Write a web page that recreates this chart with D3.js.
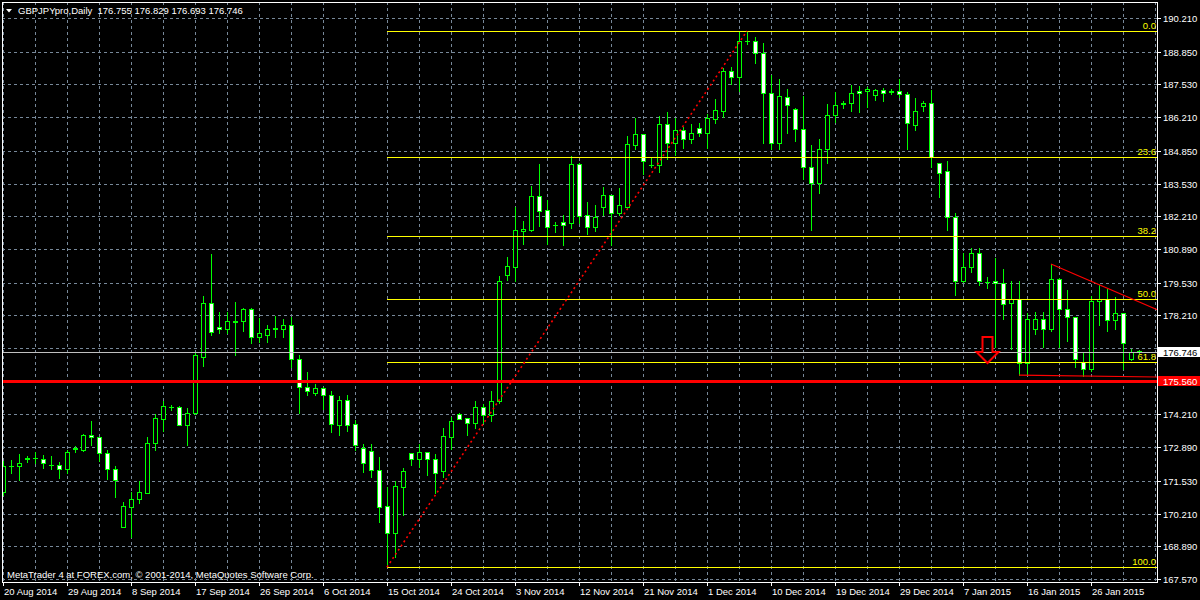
<!DOCTYPE html>
<html><head><meta charset="utf-8">
<script src="https://cdn.jsdelivr.net/npm/d3@7"></script>
<style>html,body{margin:0;padding:0;background:#000;overflow:hidden}svg{display:block}</style>
</head><body><svg id="c" width="1200" height="600"></svg>
<script>
// ---------------- DATA ----------------
const symbol = "GBPJPYpro,Daily";
const lastQuote = ["176.755", "176.829", "176.693", "176.746"];
const copyright = "MetaTrader 4 at FOREX.com, \u00a9 2001-2014, MetaQuotes Software Corp.";

const opens = [171.08,172.13,172.14,172.43,172.45,172.40,172.17,172.16,172.02,172.80,
172.78,173.37,173.29,172.64,172.00,169.68,170.49,170.79,171.05,173.05,
174.04,174.50,174.50,173.80,174.27,176.54,178.70,177.73,177.65,177.97,
177.97,178.45,177.35,177.41,177.67,177.67,177.81,176.44,175.31,175.06,
175.28,174.98,173.80,174.79,173.83,172.86,172.72,171.97,170.52,169.44,
171.30,172.64,172.40,172.70,172.40,171.92,173.31,174.23,174.07,173.85,
174.50,174.18,174.74,179.85,180.17,181.63,181.65,183.03,182.46,181.87,
181.98,181.95,184.32,182.25,181.79,182.59,183.05,182.35,182.59,185.10,
185.53,184.27,184.27,185.93,185.15,185.69,185.34,185.77,185.56,186.15,
186.47,188.06,187.82,189.29,189.27,188.78,187.17,185.18,187.01,186.55,
185.74,184.18,183.56,184.94,186.31,186.75,186.77,187.25,187.25,187.11,
187.30,187.25,187.25,187.14,185.90,186.66,186.77,184.35,184.02,182.19,
179.58,180.15,180.71,179.57,179.58,179.50,178.70,178.88,176.30,177.67,
178.05,177.65,179.69,178.45,178.13,176.33,176.03,178.78,178.88,178.02,
178.29,176.46,176.755];
const highs = [172.33,172.37,172.61,172.53,172.70,172.56,172.53,172.29,172.78,172.94,
173.42,173.93,173.30,172.78,172.13,170.68,171.08,171.54,173.31,174.23,
174.74,174.60,174.55,174.47,176.73,178.99,180.69,178.35,178.35,178.75,
178.51,178.51,178.10,177.81,178.18,178.07,178.16,176.60,175.92,175.44,
175.33,175.17,174.96,175.01,173.99,173.02,173.02,172.48,171.27,171.54,
172.05,172.66,173.02,172.71,172.61,173.66,174.12,174.28,174.08,174.77,
174.63,175.17,179.80,180.58,182.57,182.01,183.43,184.32,182.87,181.98,
182.25,184.64,184.35,182.78,182.68,183.40,183.06,183.35,185.45,186.17,
185.54,184.59,186.25,186.42,186.17,185.80,185.93,185.96,186.34,186.93,
188.19,188.22,189.69,189.64,189.43,189.19,187.90,187.74,187.33,186.56,
187.06,185.07,185.31,186.74,187.22,186.85,187.52,187.47,187.41,187.33,
187.38,187.36,187.76,187.22,186.98,186.87,187.30,184.36,184.45,182.35,
180.74,180.93,180.93,179.77,180.52,180.09,179.58,179.58,178.32,178.35,
178.35,180.28,179.70,179.23,178.14,176.73,178.99,179.42,179.29,178.94,
178.30,176.84,176.829];
const lows = [170.96,171.85,171.57,172.29,172.25,172.05,172.02,171.65,171.86,172.70,
172.75,172.99,172.34,171.62,170.89,169.67,169.28,170.63,171.04,172.78,
173.56,174.39,173.79,172.97,174.23,176.17,177.43,177.51,177.51,176.62,
177.59,177.11,177.13,177.13,177.32,177.32,176.14,174.28,174.98,175.01,
174.44,173.50,173.39,173.56,172.78,171.89,171.70,169.87,168.05,168.47,
170.17,172.18,172.10,171.78,171.05,171.67,172.83,174.01,173.37,173.66,
173.85,173.96,174.67,179.64,179.58,181.09,181.63,181.82,181.09,181.57,
181.06,181.74,181.95,181.49,181.60,182.27,181.06,182.25,182.51,184.94,
183.91,184.18,183.99,184.51,184.69,184.96,185.18,185.45,184.96,185.98,
186.23,187.55,187.28,189.16,188.41,185.18,184.94,184.94,185.58,185.26,
183.72,181.65,183.16,184.35,186.01,186.58,186.47,186.42,186.61,186.90,
186.86,187.14,187.03,184.94,185.69,186.47,184.21,183.00,181.65,179.04,
179.57,179.96,179.45,179.31,176.95,178.07,176.86,175.80,175.80,177.46,
176.95,177.57,176.95,177.19,176.14,175.76,175.98,177.83,177.59,177.67,
176.03,176.41,176.693];
const closes = [172.13,172.14,172.24,172.44,172.45,172.24,172.19,172.02,172.70,172.86,
173.37,173.29,172.64,172.00,171.57,170.52,170.79,171.08,173.05,174.07,
174.55,174.51,173.80,174.26,176.61,178.70,177.54,177.65,177.97,177.96,
178.45,177.35,177.49,177.65,177.68,177.81,176.44,175.31,175.15,175.28,
174.98,173.83,174.79,173.80,172.97,172.25,171.97,170.49,169.44,171.32,
171.92,172.40,172.70,172.40,171.86,173.34,173.93,174.04,173.85,174.50,
174.18,174.74,179.58,180.20,181.65,181.71,183.03,182.43,181.79,181.86,
181.87,184.32,182.22,181.79,182.17,183.05,182.35,182.65,185.12,185.53,
184.43,184.28,185.93,185.15,185.69,185.34,185.56,185.56,186.17,186.50,
188.06,187.82,189.27,189.28,188.78,187.17,185.18,187.06,186.69,185.74,
184.18,183.56,184.94,186.31,186.69,186.76,187.17,187.17,187.36,187.30,
187.20,187.24,187.14,185.96,186.44,186.77,184.59,183.97,182.19,179.58,
180.15,180.71,179.58,179.56,179.50,178.67,178.88,176.27,178.05,178.05,
177.65,179.69,178.45,178.13,176.46,176.03,178.78,178.88,178.02,178.32,
177.08,176.73,176.746];

const dateLabels = ["20 Aug 2014","29 Aug 2014","8 Sep 2014","17 Sep 2014","26 Sep 2014",
"6 Oct 2014","15 Oct 2014","24 Oct 2014","3 Nov 2014","12 Nov 2014","21 Nov 2014",
"1 Dec 2014","10 Dec 2014","19 Dec 2014","29 Dec 2014","7 Jan 2015","16 Jan 2015","26 Jan 2015"];
const dateLabelStep = 8;     // bars between date labels
const gridStep = 4;          // bars between vertical grid lines

const priceTicks = [190.21,188.85,187.53,186.21,184.85,183.53,182.21,180.89,179.53,178.21,
176.89,175.55,174.21,172.89,171.53,170.21,168.89,167.57];
const hiddenPriceTicks = [176.89,175.55];

const supportLevel = 175.56;
const bidPrice = 176.746;

const fibLevels = [0, 23.6, 38.2, 50, 61.8, 100];
const fibLowBar = 48, fibLow = 168.05, fibHighBar = 93, fibHigh = 189.69;

const trendDown = [[131, 180.28], [144.5, 178.41]];
const trendBottom = [[127, 175.80], [144.5, 175.72]];
const arrowMark = {bar: 123, price: 176.29};

// ---------------- LAYOUT ----------------
const W = 1200, H = 600;
const plot = {l: 2, t: 2, r: 1157, b: 582};
const font = "'Liberation Sans', Arial, sans-serif";
const fs = 9.5;

const x = d3.scaleLinear().domain([0, 144]).range([3, 1155]);
const y = d3.scaleLinear().domain([167.57, 190.21]).range([579, 18]);
const px = v => Math.round(x(v));
const py = v => Math.round(y(v));

const svg = d3.select("#c");
svg.append("rect").attr("width", W).attr("height", H).attr("fill", "#000");

svg.append("defs").append("clipPath").attr("id", "clip")
  .append("rect").attr("x", plot.l).attr("y", plot.t)
  .attr("width", plot.r - plot.l).attr("height", plot.b - plot.t);

const g = svg.append("g").attr("clip-path", "url(#clip)").attr("shape-rendering", "crispEdges");

// grid
const gridColor = "#778899";
g.selectAll("line.hg").data(priceTicks).join("line").attr("class", "hg")
  .attr("x1", plot.l).attr("x2", plot.r)
  .attr("y1", d => py(d) + 0.5).attr("y2", d => py(d) + 0.5)
  .attr("stroke", gridColor).attr("stroke-dasharray", "3,3");
const vIdx = d3.range(0, 145, gridStep);
g.selectAll("line.vg").data(vIdx).join("line").attr("class", "vg")
  .attr("x1", d => px(d) + 0.5).attr("x2", d => px(d) + 0.5)
  .attr("y1", plot.t).attr("y2", plot.b)
  .attr("stroke", gridColor).attr("stroke-dasharray", "3,3");

// candles
const bars = opens.map((o, i) => ({i, o, h: highs[i], l: lows[i], c: closes[i]}));
const lime = "#00ff00";
const cg = g.append("g");
cg.selectAll("line.wick").data(bars).join("line").attr("class", "wick")
  .attr("x1", d => px(d.i) + 0.5).attr("x2", d => px(d.i) + 0.5)
  .attr("y1", d => py(d.h)).attr("y2", d => py(d.l) + 1)
  .attr("stroke", lime);
cg.selectAll("g.body").data(bars).join(function(enter) {
  const s = enter.append("g").attr("class", "body");
  s.each(function(d) {
    const sel = d3.select(this);
    const top = py(Math.max(d.o, d.c)), bot = py(Math.min(d.o, d.c));
    const cx = px(d.i);
    if (bot - top < 2) {
      sel.append("line").attr("x1", cx - 2).attr("x2", cx + 3)
        .attr("y1", top + 0.5).attr("y2", top + 0.5).attr("stroke", lime);
      if (bot > top) sel.append("line").attr("x1", cx - 2).attr("x2", cx + 3)
        .attr("y1", bot + 0.5).attr("y2", bot + 0.5).attr("stroke", lime);
    } else {
      sel.append("rect").attr("x", cx - 1.5).attr("y", top + 0.5)
        .attr("width", 4).attr("height", bot - top)
        .attr("fill", d.c >= d.o ? "#000" : "#fff").attr("stroke", lime);
    }
  });
  return s;
});

// fibonacci
const fibY = lv => fibHigh - (fibHigh - fibLow) * lv / 100;
const fx0 = px(fibLowBar);
g.selectAll("line.fib").data(fibLevels).join("line").attr("class", "fib")
  .attr("x1", fx0).attr("x2", plot.r)
  .attr("y1", d => py(fibY(d)) + 0.5).attr("y2", d => py(fibY(d)) + 0.5)
  .attr("stroke", "#ffff00");
g.append("line")
  .attr("x1", x(fibLowBar)).attr("y1", y(fibLow))
  .attr("x2", x(fibHighBar)).attr("y2", y(fibHigh))
  .attr("stroke", "#ff0000").attr("stroke-width", 1.6).attr("stroke-dasharray", "2,3")
  .attr("shape-rendering", "auto");
svg.selectAll("text.fibl").data(fibLevels).join("text").attr("class", "fibl")
  .attr("x", plot.r - 1).attr("y", d => py(fibY(d)) - 2)
  .attr("text-anchor", "end").attr("fill", "#ffff00")
  .attr("font-family", font).attr("font-size", fs)
  .text(d => d.toFixed(1));

// trend lines
[trendDown, trendBottom].forEach(t => {
  g.append("line")
    .attr("x1", x(t[0][0])).attr("y1", y(t[0][1]))
    .attr("x2", x(t[1][0])).attr("y2", y(t[1][1]))
    .attr("stroke", "#ff0000").attr("stroke-width", 1.2).attr("shape-rendering", "auto");
});

// support line & bid line
g.append("line").attr("x1", plot.l).attr("x2", plot.r)
  .attr("y1", py(supportLevel) + 0.5).attr("y2", py(supportLevel) + 0.5)
  .attr("stroke", "#ff0000").attr("stroke-width", 3);
g.append("line").attr("x1", plot.l).attr("x2", plot.r)
  .attr("y1", py(bidPrice) + 0.5).attr("y2", py(bidPrice) + 0.5)
  .attr("stroke", "#c0c0c0");

// arrow
const ax = px(arrowMark.bar) + 0.5, ay = py(arrowMark.price);
const arrowPts = [[-5,-26],[5,-26],[5,-11],[11,-11],[0,0],[-11,-11],[-5,-11]];
g.append("polygon")
  .attr("points", arrowPts.map(p => [ax + p[0], ay + p[1]].join(",")).join(" "))
  .attr("fill", "none").attr("stroke", "#ff0000").attr("stroke-width", 2)
  .attr("shape-rendering", "auto");

// frame
svg.append("rect").attr("x", plot.l + 0.5).attr("y", plot.t + 0.5)
  .attr("width", plot.r - plot.l).attr("height", plot.b - plot.t)
  .attr("fill", "none").attr("stroke", "#fff").attr("shape-rendering", "crispEdges");

// price axis
const yAxisG = svg.append("g").attr("shape-rendering", "crispEdges");
const shownTicks = priceTicks.filter(v => !hiddenPriceTicks.includes(v));
yAxisG.selectAll("line").data(shownTicks).join("line")
  .attr("x1", plot.r).attr("x2", plot.r + 4)
  .attr("y1", d => py(d) + 0.5).attr("y2", d => py(d) + 0.5).attr("stroke", "#fff");
yAxisG.selectAll("text").data(shownTicks).join("text")
  .attr("x", plot.r + 6).attr("y", d => py(d) + 4)
  .attr("fill", "#fff").attr("font-family", font).attr("font-size", fs)
  .text(d => d.toFixed(3));

// price labels (bid, support)
function priceTag(v, bg, fg) {
  const yy = py(v);
  svg.append("rect").attr("x", plot.r + 1).attr("y", yy - 5).attr("width", W - plot.r - 1)
    .attr("height", 10).attr("fill", bg);
  svg.append("text").attr("x", plot.r + 6).attr("y", yy + 4)
    .attr("fill", fg).attr("font-family", font).attr("font-size", fs).text(v.toFixed(3));
}
priceTag(bidPrice, "#ffffff", "#000000");
priceTag(supportLevel, "#ff0000", "#ffffff");

// time axis
const dIdx = dateLabels.map((d, k) => k * dateLabelStep);
svg.selectAll("line.xt").data(dIdx).join("line").attr("class", "xt")
  .attr("x1", d => px(d) + 0.5).attr("x2", d => px(d) + 0.5)
  .attr("y1", plot.b).attr("y2", plot.b + 4).attr("stroke", "#fff")
  .attr("shape-rendering", "crispEdges");
svg.selectAll("text.xl").data(dateLabels).join("text").attr("class", "xl")
  .attr("x", (d, k) => px(dIdx[k]) + 1).attr("y", 595)
  .attr("fill", "#fff").attr("font-family", font).attr("font-size", fs)
  .text(d => d);

// header
svg.append("path").attr("d", "M6,9 L12,9 L9,12.5 Z").attr("fill", "#fff");
svg.append("text").attr("x", 18).attr("y", 14).attr("fill", "#fff")
  .attr("font-family", font).attr("font-size", fs)
  .attr("xml:space", "preserve")
  .text(symbol + "  " + lastQuote.join(" "));

// footer
svg.append("text").attr("x", 7).attr("y", 578).attr("fill", "#fff")
  .attr("font-family", font).attr("font-size", fs).text(copyright);
</script></body></html>
